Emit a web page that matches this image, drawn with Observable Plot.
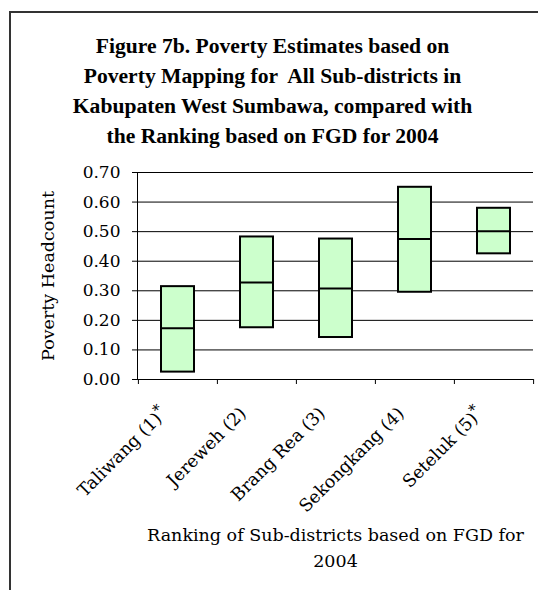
<!DOCTYPE html>
<html>
<head>
<meta charset="utf-8">
<script src="https://cdn.jsdelivr.net/npm/d3@7"></script>
<script src="https://cdn.jsdelivr.net/npm/@observablehq/plot@0.6"></script>
<style>
  html, body { margin: 0; padding: 0; background: #fff; }
  #wrap { position: relative; width: 538px; height: 590px; overflow: hidden; background: #fff; }
  #border { position: absolute; left: 9px; top: 11px; width: 700px; height: 700px;
            border-left: 2px solid #333; border-top: 2px solid #333; box-sizing: border-box; }
  #title { position: relative; padding-top: 31px; width: 545px; text-align: center;
           font-family: "Liberation Serif", "Times New Roman", serif; font-weight: bold;
           font-size: 21.6px; line-height: 30px; color: #000; white-space: pre; }
  #chart { position: relative; height: 439px; }
  #chart svg { overflow: visible; }
</style>
</head>
<body>
<div id="wrap">
  <div id="border"></div>
  <div id="title"></div>
  <div id="chart"></div>
</div>
<script>
// ---- data ----
const titleLines = [
  "Figure 7b. Poverty Estimates based on",
  "Poverty Mapping for  All Sub-districts in",
  "Kabupaten West Sumbawa, compared with",
  "the Ranking based on FGD for 2004"
];
const categories = ["Taliwang (1)*", "Jereweh (2)", "Brang Rea (3)", "Sekongkang (4)", "Seteluk (5)*"];
const lowValues  = [0.025, 0.175, 0.142, 0.295, 0.425];
const midValues  = [0.173, 0.328, 0.308, 0.475, 0.501];
const highValues = [0.314, 0.482, 0.475, 0.650, 0.579];
const yTicks = [0, 0.1, 0.2, 0.3, 0.4, 0.5, 0.6, 0.7];
const yLabel = "Poverty Headcount";
const xLabelLines = ["Ranking of Sub-districts based on FGD for", "2004"];

// ---- table built from the arrays ----
const data = categories.map((name, i) => ({name, low: lowValues[i], mid: midValues[i], high: highValues[i]}));

document.getElementById("title").textContent = titleLines.join("\n");

const W = 538, H = 439, ML = 137, MR = 5, MT = 21, MB = 211;
const plotH = H - MT - MB;
const bw = (W - ML - MR) / categories.length;
const boxInset = 23;
const serif = "'DejaVu Serif', serif";

const chart = Plot.plot({
  width: W, height: H,
  marginLeft: ML, marginRight: MR, marginTop: MT, marginBottom: MB,
  style: {fontFamily: serif, fontSize: "17px", color: "#000", background: "transparent", overflow: "visible"},
  x: {domain: categories, padding: 0, axis: null},
  y: {domain: [0, 0.7], axis: null},
  marks: [
    Plot.ruleY(yTicks.filter(d => d > 0), {stroke: "#000", strokeWidth: 1}),
    Plot.axisY(yTicks, {tickSize: 5, tickPadding: 12, tickFormat: d3.format(".2f"), label: null, fontSize: 17, fontFamily: serif}),
    Plot.frame({anchor: "left", stroke: "#000"}),
    Plot.ruleY([0], {stroke: "#000"}),
    Plot.ruleX(categories, {x: d => d, dx: -bw / 2, insetTop: plotH, insetBottom: -5, stroke: "#000"}),
    Plot.ruleX(categories.slice(-1), {x: d => d, dx: bw / 2, insetTop: plotH, insetBottom: -5, stroke: "#000"}),
    Plot.barY(data, {x: "name", y1: "low", y2: "high", fill: "#CCFFCC", stroke: "#000", strokeWidth: 2,
                     insetLeft: boxInset, insetRight: boxInset}),
    Plot.tickY(data, {x: "name", y: "mid", stroke: "#000", strokeWidth: 2, insetLeft: boxInset, insetRight: boxInset}),
    Plot.text(data, {x: "name", text: "name", frameAnchor: "bottom", rotate: -45, textAnchor: "end",
                     lineAnchor: "bottom", dx: -10, dy: 35, fontSize: 17.5, fontFamily: serif, fill: "#000"}),
    Plot.text([yLabel], {text: d => d, frameAnchor: "left", textAnchor: "middle", lineAnchor: "middle",
                         rotate: -90, dx: -89, fontSize: 17.5, fontFamily: serif, fill: "#000"}),
    Plot.text([xLabelLines.join("\n")], {text: d => d, frameAnchor: "bottom", textAnchor: "middle", lineAnchor: "top",
                         dy: 143, fontSize: 17.5, lineHeight: 26 / 17.5, fontFamily: serif, fill: "#000"})
  ]
});

// superscript asterisks in category labels
for (const t of chart.querySelectorAll("text")) {
  const s = t.textContent;
  if (t.childElementCount === 0 && s.length > 1 && s.endsWith("*")) {
    t.textContent = s.slice(0, -1);
    const ts = document.createElementNS("http://www.w3.org/2000/svg", "tspan");
    ts.setAttribute("dy", "-0.4em");
    ts.setAttribute("font-size", "0.85em");
    ts.textContent = "*";
    t.appendChild(ts);
  }
}

document.getElementById("chart").appendChild(chart);
</script>
</body>
</html>
